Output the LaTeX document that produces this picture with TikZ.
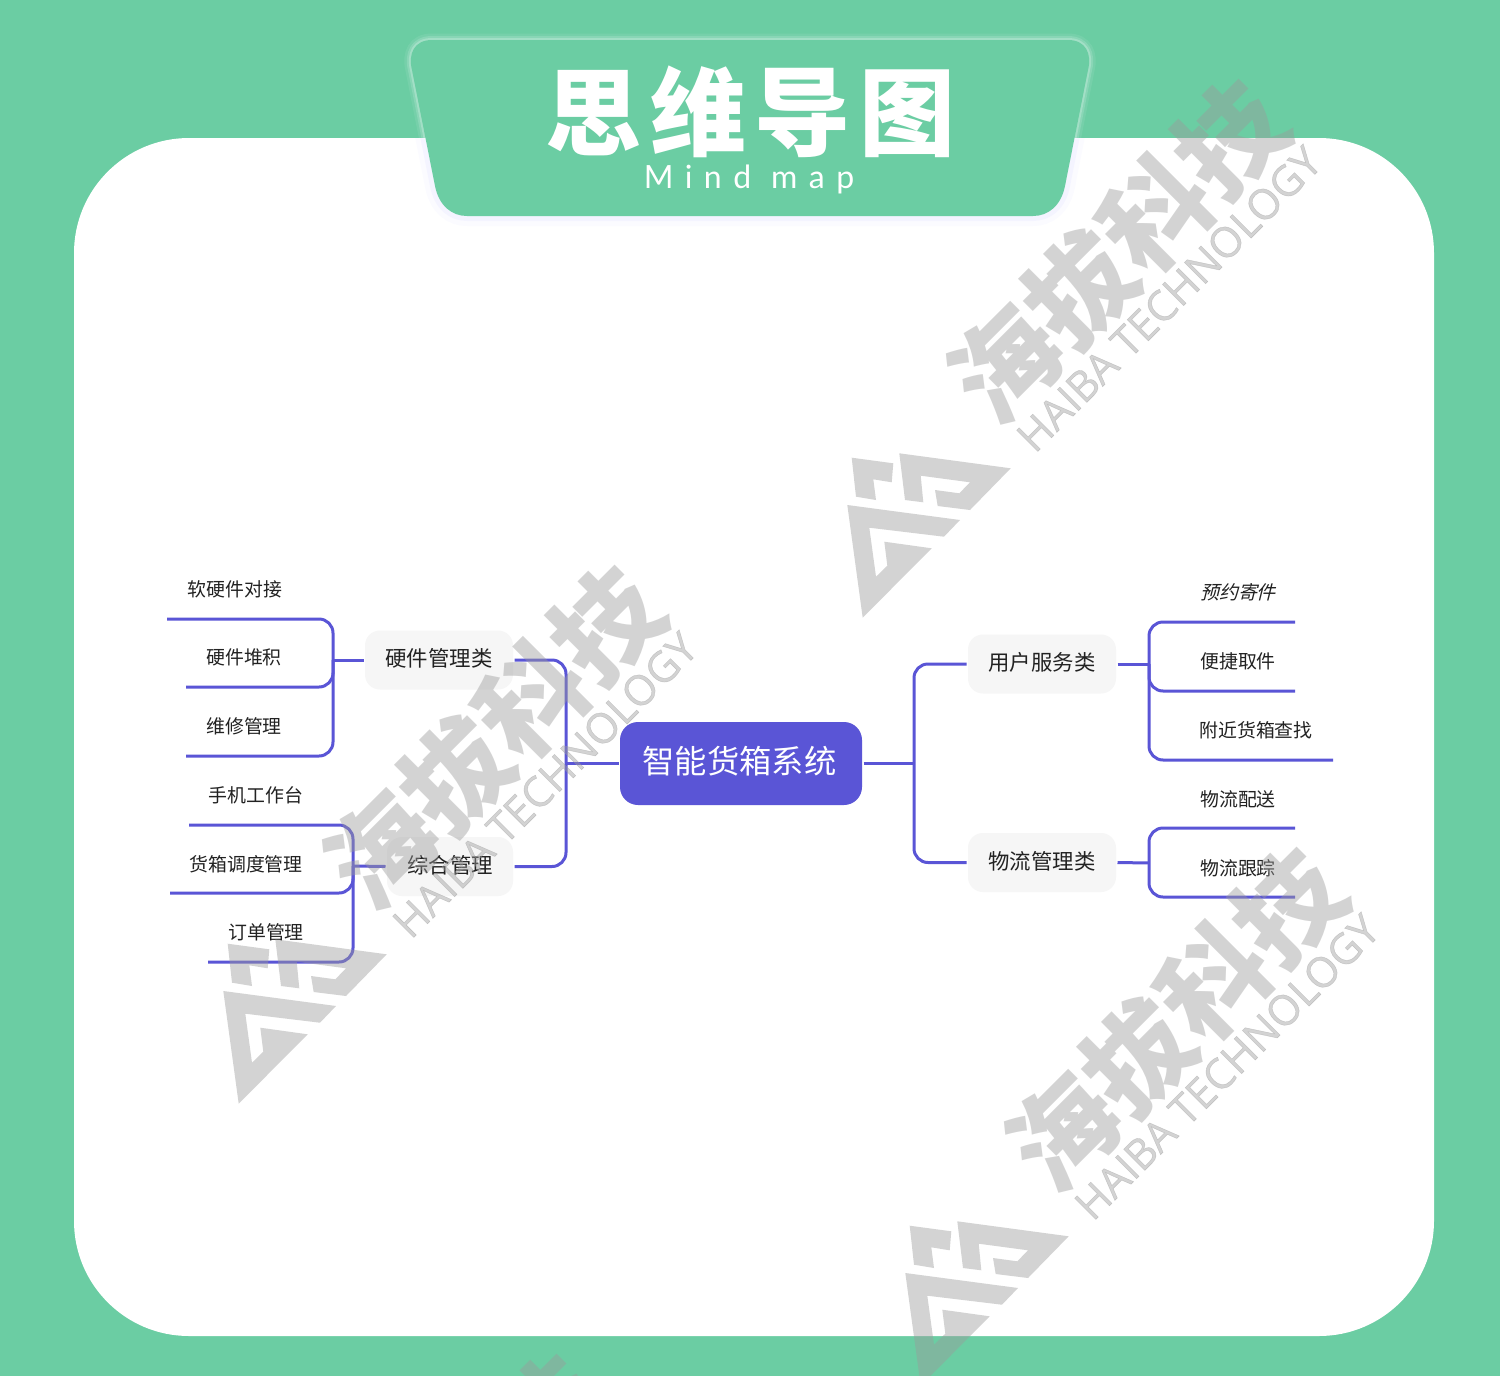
\documentclass[tikz,border=0pt]{standalone}
\usepackage{fontspec}
\setmainfont{Noto Sans CJK SC}
\newfontfamily\cjkit[FakeSlant=0.25]{Noto Sans CJK SC}
\newfontfamily\titlefont[LetterSpace=9]{Noto Sans CJK SC Black}
\newfontfamily\wmcjk{Noto Sans CJK SC Black}
\newfontfamily\enfont[LetterSpace=36]{Lato}
\newfontfamily\wmfont[FakeBold=1]{Open Sans}
\definecolor{bggreen}{HTML}{6BCDA3}
\definecolor{linkblue}{HTML}{5A55D6}
\definecolor{boxgrey}{HTML}{F6F6F6}
\definecolor{inkc}{HTML}{222222}
\definecolor{wmgrey}{RGB}{155,155,155}
\tikzset{
  link/.style={draw=linkblue,line width=3pt,rounded corners=14pt},
  stemline/.style={draw=linkblue,line width=3pt},
  branchbox/.style={fill=boxgrey,rounded corners=15pt,minimum width=148pt,minimum height=59pt,outer sep=1.5pt,inner sep=0pt,text height=18.2pt,text depth=5pt,text=inkc,font=\fontsize{21.4}{24}\selectfont},
  leaf/.style={inner sep=0pt,text=inkc,font=\fontsize{18.9}{22}\selectfont},
  rootbox/.style={fill=linkblue,rounded corners=18pt,minimum width=242pt,minimum height=83pt,outer sep=1.5pt,inner sep=0pt,text height=26pt,text depth=5.4pt,text=white,font=\fontsize{32.3}{36}\selectfont},
  wm/.style={fill=wmgrey,opacity=.43,draw=none},
  wmtext/.style={text=wmgrey,opacity=.43,inner sep=0pt,rotate=45},
}
\newcommand{\stamp}[2]{%
  \begin{scope}[shift={(#1,#2)}]
    \fill[wm] (11.7,12.7)--(53.3,18.3)--(51.7,37.3)--(33.3,34.3)--(36,55)--(16,51.7)--cycle;
    \fill[wm] (59.3,8.3)--(170.7,23.3)--(130,65)--(97.7,61)--(95,45)--(119.3,48.3)--(130,37.3)--(80.7,30.7)--(83.3,57.3)--(65,55)--cycle;
    \fill[wm] (7.3,60)--(120,75)--(104,91.7)--(29.3,82.7)--(36,131.7)--(47.3,120.7)--(44.3,96.7)--(91.7,103.3)--(22.7,172.7)--cycle;
    \node[wmtext,font=\wmcjk\fontsize{106}{110}\selectfont] at (278,-194) {海拔科技};
    \node[wmtext,font=\wmfont\fontsize{42}{46}\selectfont] at (329,-146) {HAIBA TECHNOLOGY};
  \end{scope}}
\begin{document}
\begin{tikzpicture}[x=1pt,y=-1pt]
\useasboundingbox (0,0) rectangle (1500,1376);
\clip (0,0) rectangle (1500,1376);
\fill[bggreen] (0,0) rectangle (1500,1376);
\fill[white] (74,138) [rounded corners=115pt] rectangle (1434,1336);

% header
\def\headpath{(432,40) -- (1068,40) .. controls (1086,40) and (1092,54) .. (1088,70) -- (1065,186) .. controls (1061,206) and (1048,216) .. (1033,216) -- (467,216) .. controls (452,216) and (439,206) .. (435,186) -- (412,70) .. controls (408,54) and (414,40) .. (432,40) -- cycle}
\begin{scope}
  \clip (300,138) rectangle (1200,260);
  \draw[blue!50!white,opacity=.03,line width=20pt] \headpath;
  \draw[blue!50!white,opacity=.05,line width=10pt] \headpath;
\end{scope}
\begin{scope}
  \clip (300,0) rectangle (1200,138);
  \draw[white,opacity=.08,line width=13pt] \headpath;
  \draw[white,opacity=.14,line width=8pt] \headpath;
  \draw[white,opacity=.22,line width=4pt] \headpath;
\end{scope}
\fill[bggreen] \headpath;
\node[inner sep=0pt,text=white,font=\titlefont\fontsize{96}{100}\selectfont] (title) at (750.5,112) {思维导图};
\node[inner sep=0pt,text=white,font=\enfont\fontsize{32}{36}\selectfont] (subtitle) at (749,179) {Mind map};

% nodes
\node[rootbox] (root) at (741,763.5) {\hspace*{-3pt}智能货箱系统};
\node[branchbox] (hw) at (439,660) {硬件管理类};
\node[branchbox,minimum width=126pt] (zh) at (450,866.5) {综合管理};
\node[branchbox] (us) at (1042,664) {用户服务类};
\node[branchbox] (wl) at (1042,862.5) {物流管理类};

\node[leaf] (a1) at (235,589) {软硬件对接};
\node[leaf] (a2) at (244,657) {硬件堆积};
\node[leaf] (a3) at (244,726) {维修管理};
\node[leaf] (b1) at (256,795) {手机工作台};
\node[leaf] (b2) at (246,864) {货箱调度管理};
\node[leaf] (b3) at (266,932) {订单管理};
\node[leaf,font=\cjkit\fontsize{18.9}{22}\selectfont] (c1) at (1238,592) {预约寄件};
\node[leaf] (c2) at (1238,661) {便捷取件};
\node[leaf] (c3) at (1256,730) {附近货箱查找};
\node[leaf] (d1) at (1238,799) {物流配送};
\node[leaf] (d2) at (1238,868) {物流跟踪};

% free ends
\coordinate (trL) at (566,763);
\coordinate (trR) at (914,763);
\coordinate (ja) at (333,660);
\coordinate (jb) at (353,866);
\coordinate (jc) at (1149,664);
\coordinate (jd) at (1149,863);
\coordinate (a1e) at (167,619);
\coordinate (a2e) at (186,687);
\coordinate (a3e) at (186,756);
\coordinate (b1e) at (189,825);
\coordinate (b2e) at (170,893);
\coordinate (b3e) at (208,962);
\coordinate (c1e) at (1295,622);
\coordinate (c2e) at (1295,691);
\coordinate (c3e) at (1333,760);
\coordinate (d1e) at (1295,828);
\coordinate (d2e) at (1295,897);

% connectors
\draw[stemline] (root.west) -- (root.west -| trL);
\draw[stemline] (root.east) -- (root.east -| trR);
\draw[link] (hw.east) -| (trL) |- (zh.east);
\draw[link] (us.west) -| (trR) |- (wl.west);
\draw[stemline] (hw.west) -- (ja);
\draw[stemline] (zh.west) -- (jb);
\draw[stemline] (us.east) -- (jc);
\draw[stemline] (wl.east) -- (jd);
\draw[link] (a1e) -| (ja) |- (a2e);
\draw[link] (ja) |- (a3e);
\draw[link] (b1e) -| (jb) |- (b2e);
\draw[link] (jb) |- (b3e);
\draw[link] (c1e) -| (jc) |- (c2e);
\draw[link] (jc) |- (c3e);
\draw[link] (d1e) -| (jd) |- (d2e);

% watermarks
\stamp{840}{445}
\stamp{216}{931}
\stamp{898}{1213}
\node[wmtext,font=\wmcjk\fontsize{106}{110}\selectfont] (wmrest) at (549,1414) {技};
\end{tikzpicture}
\end{document}
